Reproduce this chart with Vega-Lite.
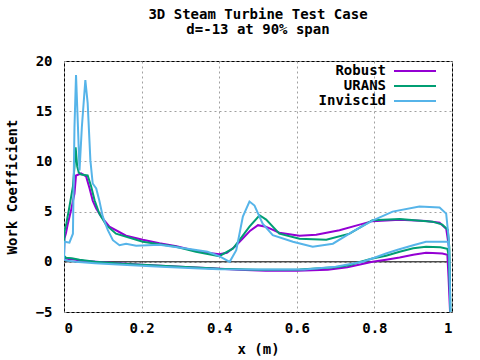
{
  "$schema": "https://vega.github.io/schema/vega-lite/v6.json",
  "width": 388,
  "height": 251,
  "autosize": {"type": "none"},
  "padding": {"left": 64, "top": 61, "right": 28, "bottom": 48},
  "background": "white",
  "title": {
    "text": ["3D Steam Turbine Test Case", "d=-13 at 90% span"],
    "font": "DejaVu Sans Mono",
    "fontSize": 14,
    "fontWeight": "bold",
    "color": "black",
    "anchor": "middle",
    "offset": 17,
    "lineHeight": 15
  },
  "config": {
    "view": {"stroke": "black", "strokeWidth": 1},
    "axis": {
      "grid": true,
      "gridColor": "#a0a0a0",
      "gridDash": [2, 3],
      "gridWidth": 1,
      "domain": false,
      "ticks": false,
      "labelFont": "DejaVu Sans Mono",
      "labelFontSize": 14,
      "labelFontWeight": "bold",
      "labelColor": "black",
      "titleFont": "DejaVu Sans Mono",
      "titleFontSize": 14,
      "titleFontWeight": "bold",
      "titleColor": "black"
    },
    "legend": {
      "orient": "none",
      "legendX": 344,
      "legendY": 3,
      "padding": 0,
      "symbolType": "M-6,0H6",
      "symbolSize": 49,
      "symbolStrokeWidth": 2,
      "labelAlign": "right",
      "labelOffset": -36,
      "labelFont": "DejaVu Sans Mono",
      "labelFontSize": 14,
      "labelFontWeight": "bold",
      "labelColor": "black",
      "rowPadding": 1,
      "title": null
    }
  },
  "datasets": {
    "zero": [{"x": 0, "y": 0}, {"x": 0.987, "y": 0}],
    "curves": [
      {"s":"Robust","i":0,"x":0,"y":0.5},{"s":"Robust","i":1,"x":0.001,"y":2.3},{"s":"Robust","i":2,"x":0.005,"y":2.85},{"s":"Robust","i":3,"x":0.01,"y":3.8},{"s":"Robust","i":4,"x":0.018,"y":5.1},{"s":"Robust","i":5,"x":0.027,"y":6.8},{"s":"Robust","i":6,"x":0.031,"y":8.6},{"s":"Robust","i":7,"x":0.044,"y":8.8},{"s":"Robust","i":8,"x":0.057,"y":8.5},{"s":"Robust","i":9,"x":0.066,"y":7.3},{"s":"Robust","i":10,"x":0.074,"y":6.1},{"s":"Robust","i":11,"x":0.083,"y":5.3},{"s":"Robust","i":12,"x":0.096,"y":4.5},{"s":"Robust","i":13,"x":0.117,"y":3.5},{"s":"Robust","i":14,"x":0.16,"y":2.6},{"s":"Robust","i":15,"x":0.203,"y":2.2},{"s":"Robust","i":16,"x":0.246,"y":1.85},{"s":"Robust","i":17,"x":0.29,"y":1.55},{"s":"Robust","i":18,"x":0.332,"y":1.15},{"s":"Robust","i":19,"x":0.37,"y":0.9},{"s":"Robust","i":20,"x":0.4,"y":0.76},{"s":"Robust","i":21,"x":0.42,"y":0.9},{"s":"Robust","i":22,"x":0.44,"y":1.5},{"s":"Robust","i":23,"x":0.46,"y":2.3},{"s":"Robust","i":24,"x":0.48,"y":3.1},{"s":"Robust","i":25,"x":0.5,"y":3.65},{"s":"Robust","i":26,"x":0.52,"y":3.5},{"s":"Robust","i":27,"x":0.555,"y":2.9},{"s":"Robust","i":28,"x":0.607,"y":2.6},{"s":"Robust","i":29,"x":0.65,"y":2.7},{"s":"Robust","i":30,"x":0.71,"y":3.15},{"s":"Robust","i":31,"x":0.762,"y":3.7},{"s":"Robust","i":32,"x":0.795,"y":4.05},{"s":"Robust","i":33,"x":0.865,"y":4.2},{"s":"Robust","i":34,"x":0.933,"y":4.07},{"s":"Robust","i":35,"x":0.968,"y":3.9},{"s":"Robust","i":36,"x":0.985,"y":3.3},{"s":"Robust","i":37,"x":0.992,"y":1.5},{"s":"Robust","i":38,"x":0.995,"y":-5},{"s":"Robust","i":39,"x":0.991,"y":-1.5},{"s":"Robust","i":40,"x":0.988,"y":0.7},{"s":"Robust","i":41,"x":0.975,"y":0.82},{"s":"Robust","i":42,"x":0.95,"y":0.88},{"s":"Robust","i":43,"x":0.933,"y":0.89},{"s":"Robust","i":44,"x":0.9,"y":0.7},{"s":"Robust","i":45,"x":0.865,"y":0.43},{"s":"Robust","i":46,"x":0.83,"y":0.2},{"s":"Robust","i":47,"x":0.795,"y":0},{"s":"Robust","i":48,"x":0.76,"y":-0.3},{"s":"Robust","i":49,"x":0.73,"y":-0.55},{"s":"Robust","i":50,"x":0.68,"y":-0.8},{"s":"Robust","i":51,"x":0.6,"y":-0.88},{"s":"Robust","i":52,"x":0.52,"y":-0.9},{"s":"Robust","i":53,"x":0.45,"y":-0.8},{"s":"Robust","i":54,"x":0.38,"y":-0.65},{"s":"Robust","i":55,"x":0.3,"y":-0.5},{"s":"Robust","i":56,"x":0.2,"y":-0.3},{"s":"Robust","i":57,"x":0.1,"y":-0.05},{"s":"Robust","i":58,"x":0.05,"y":0.1},{"s":"Robust","i":59,"x":0.02,"y":0.25},{"s":"Robust","i":60,"x":0.005,"y":0.3},{"s":"Robust","i":61,"x":0,"y":0.5},
      {"s":"URANS","i":0,"x":0,"y":0.6},{"s":"URANS","i":1,"x":0.001,"y":3.0},{"s":"URANS","i":2,"x":0.006,"y":3.8},{"s":"URANS","i":3,"x":0.014,"y":5.5},{"s":"URANS","i":4,"x":0.023,"y":7.5},{"s":"URANS","i":5,"x":0.027,"y":9.5},{"s":"URANS","i":6,"x":0.03,"y":11.4},{"s":"URANS","i":7,"x":0.034,"y":9.5},{"s":"URANS","i":8,"x":0.038,"y":8.9},{"s":"URANS","i":9,"x":0.044,"y":8.7},{"s":"URANS","i":10,"x":0.061,"y":8.6},{"s":"URANS","i":11,"x":0.07,"y":7.5},{"s":"URANS","i":12,"x":0.079,"y":6.1},{"s":"URANS","i":13,"x":0.091,"y":4.8},{"s":"URANS","i":14,"x":0.109,"y":3.65},{"s":"URANS","i":15,"x":0.134,"y":2.8},{"s":"URANS","i":16,"x":0.203,"y":2.0},{"s":"URANS","i":17,"x":0.289,"y":1.5},{"s":"URANS","i":18,"x":0.34,"y":1.0},{"s":"URANS","i":19,"x":0.4,"y":0.56},{"s":"URANS","i":20,"x":0.435,"y":1.3},{"s":"URANS","i":21,"x":0.455,"y":2.3},{"s":"URANS","i":22,"x":0.478,"y":3.5},{"s":"URANS","i":23,"x":0.504,"y":4.64},{"s":"URANS","i":24,"x":0.521,"y":4.2},{"s":"URANS","i":25,"x":0.555,"y":2.8},{"s":"URANS","i":26,"x":0.607,"y":2.3},{"s":"URANS","i":27,"x":0.676,"y":2.2},{"s":"URANS","i":28,"x":0.736,"y":2.8},{"s":"URANS","i":29,"x":0.795,"y":4.14},{"s":"URANS","i":30,"x":0.865,"y":4.27},{"s":"URANS","i":31,"x":0.95,"y":4.0},{"s":"URANS","i":32,"x":0.975,"y":3.7},{"s":"URANS","i":33,"x":0.989,"y":3.2},{"s":"URANS","i":34,"x":0.993,"y":1.5},{"s":"URANS","i":35,"x":0.996,"y":-5},{"s":"URANS","i":36,"x":0.992,"y":0.5},{"s":"URANS","i":37,"x":0.988,"y":1.3},{"s":"URANS","i":38,"x":0.97,"y":1.45},{"s":"URANS","i":39,"x":0.933,"y":1.5},{"s":"URANS","i":40,"x":0.9,"y":1.35},{"s":"URANS","i":41,"x":0.865,"y":1.0},{"s":"URANS","i":42,"x":0.83,"y":0.6},{"s":"URANS","i":43,"x":0.795,"y":0.33},{"s":"URANS","i":44,"x":0.76,"y":-0.05},{"s":"URANS","i":45,"x":0.736,"y":-0.34},{"s":"URANS","i":46,"x":0.7,"y":-0.55},{"s":"URANS","i":47,"x":0.607,"y":-0.77},{"s":"URANS","i":48,"x":0.5,"y":-0.8},{"s":"URANS","i":49,"x":0.4,"y":-0.7},{"s":"URANS","i":50,"x":0.34,"y":-0.57},{"s":"URANS","i":51,"x":0.25,"y":-0.4},{"s":"URANS","i":52,"x":0.15,"y":-0.2},{"s":"URANS","i":53,"x":0.08,"y":0},{"s":"URANS","i":54,"x":0.04,"y":0.2},{"s":"URANS","i":55,"x":0.02,"y":0.35},{"s":"URANS","i":56,"x":0.005,"y":0.4},{"s":"URANS","i":57,"x":0,"y":0.6},
      {"s":"Inviscid","i":0,"x":0,"y":0.2},{"s":"Inviscid","i":1,"x":0.001,"y":2.0},{"s":"Inviscid","i":2,"x":0.014,"y":1.9},{"s":"Inviscid","i":3,"x":0.023,"y":2.8},{"s":"Inviscid","i":4,"x":0.027,"y":13.4},{"s":"Inviscid","i":5,"x":0.031,"y":18.6},{"s":"Inviscid","i":6,"x":0.036,"y":13.4},{"s":"Inviscid","i":7,"x":0.04,"y":9.1},{"s":"Inviscid","i":8,"x":0.046,"y":13.4},{"s":"Inviscid","i":9,"x":0.055,"y":18.1},{"s":"Inviscid","i":10,"x":0.061,"y":15.8},{"s":"Inviscid","i":11,"x":0.068,"y":10.1},{"s":"Inviscid","i":12,"x":0.074,"y":7.8},{"s":"Inviscid","i":13,"x":0.083,"y":7.3},{"s":"Inviscid","i":14,"x":0.091,"y":6.1},{"s":"Inviscid","i":15,"x":0.1,"y":4.5},{"s":"Inviscid","i":16,"x":0.113,"y":3.15},{"s":"Inviscid","i":17,"x":0.126,"y":2.15},{"s":"Inviscid","i":18,"x":0.143,"y":1.65},{"s":"Inviscid","i":19,"x":0.16,"y":1.8},{"s":"Inviscid","i":20,"x":0.186,"y":1.6},{"s":"Inviscid","i":21,"x":0.246,"y":1.7},{"s":"Inviscid","i":22,"x":0.332,"y":1.22},{"s":"Inviscid","i":23,"x":0.37,"y":1.0},{"s":"Inviscid","i":24,"x":0.4,"y":0.56},{"s":"Inviscid","i":25,"x":0.427,"y":0},{"s":"Inviscid","i":26,"x":0.444,"y":1.16},{"s":"Inviscid","i":27,"x":0.461,"y":4.5},{"s":"Inviscid","i":28,"x":0.478,"y":6.0},{"s":"Inviscid","i":29,"x":0.491,"y":5.6},{"s":"Inviscid","i":30,"x":0.512,"y":3.8},{"s":"Inviscid","i":31,"x":0.538,"y":2.65},{"s":"Inviscid","i":32,"x":0.59,"y":2.0},{"s":"Inviscid","i":33,"x":0.641,"y":1.5},{"s":"Inviscid","i":34,"x":0.693,"y":1.8},{"s":"Inviscid","i":35,"x":0.744,"y":3.0},{"s":"Inviscid","i":36,"x":0.795,"y":4.1},{"s":"Inviscid","i":37,"x":0.847,"y":5.0},{"s":"Inviscid","i":38,"x":0.916,"y":5.5},{"s":"Inviscid","i":39,"x":0.968,"y":5.4},{"s":"Inviscid","i":40,"x":0.985,"y":4.8},{"s":"Inviscid","i":41,"x":0.992,"y":2.15},{"s":"Inviscid","i":42,"x":0.996,"y":-5},{"s":"Inviscid","i":43,"x":0.993,"y":1.0},{"s":"Inviscid","i":44,"x":0.99,"y":2.0},{"s":"Inviscid","i":45,"x":0.968,"y":2.0},{"s":"Inviscid","i":46,"x":0.933,"y":2.0},{"s":"Inviscid","i":47,"x":0.9,"y":1.65},{"s":"Inviscid","i":48,"x":0.86,"y":1.2},{"s":"Inviscid","i":49,"x":0.83,"y":0.83},{"s":"Inviscid","i":50,"x":0.8,"y":0.4},{"s":"Inviscid","i":51,"x":0.77,"y":0},{"s":"Inviscid","i":52,"x":0.7,"y":-0.5},{"s":"Inviscid","i":53,"x":0.62,"y":-0.77},{"s":"Inviscid","i":54,"x":0.52,"y":-0.77},{"s":"Inviscid","i":55,"x":0.4,"y":-0.75},{"s":"Inviscid","i":56,"x":0.35,"y":-0.67},{"s":"Inviscid","i":57,"x":0.25,"y":-0.5},{"s":"Inviscid","i":58,"x":0.15,"y":-0.3},{"s":"Inviscid","i":59,"x":0.08,"y":-0.15},{"s":"Inviscid","i":60,"x":0.03,"y":0},{"s":"Inviscid","i":61,"x":0.01,"y":0.1},{"s":"Inviscid","i":62,"x":0,"y":0.2}
    ]
  },
  "encoding": {
    "x": {
      "field": "x",
      "type": "quantitative",
      "scale": {"domain": [0, 1], "nice": false, "zero": false},
      "axis": {"values": [0, 0.2, 0.4, 0.6, 0.8, 1], "format": "~g", "title": "x (m)", "labelPadding": 9, "titlePadding": 7}
    },
    "y": {
      "field": "y",
      "type": "quantitative",
      "scale": {"domain": [-5, 20], "nice": false},
      "axis": {"values": [-5, 0, 5, 10, 15, 20], "title": "Work Coefficient", "labelPadding": 12, "titlePadding": 16}
    }
  },
  "layer": [
    {
      "data": {"name": "zero"},
      "mark": {"type": "line", "color": "black", "strokeWidth": 1},
      "encoding": {}
    },
    {
      "data": {"name": "curves"},
      "mark": {"type": "line", "strokeWidth": 2, "clip": true},
      "encoding": {
        "color": {
          "field": "s",
          "type": "nominal",
          "scale": {"domain": ["Robust", "URANS", "Inviscid"], "range": ["#9400d3", "#009e73", "#56b4e9"]},
          "legend": {}
        },
        "order": {"field": "i", "type": "quantitative"}
      }
    }
  ]
}
